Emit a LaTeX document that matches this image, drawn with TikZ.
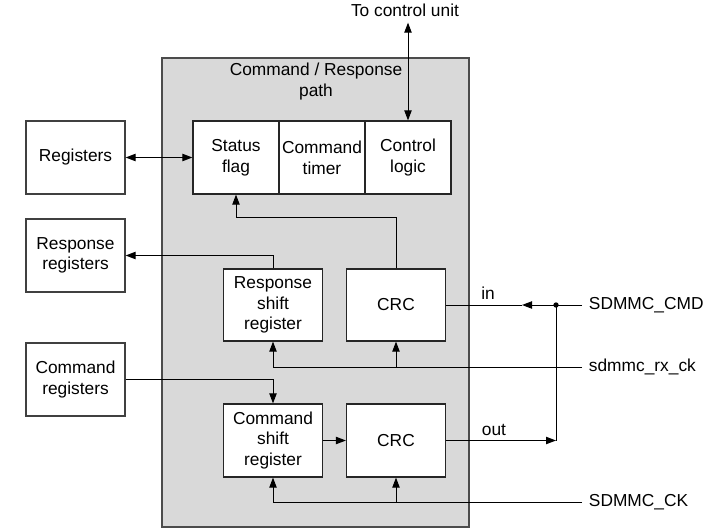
\documentclass[tikz,border=0pt]{standalone}
\usepackage{fontspec}
\setmainfont{Liberation Sans}
\usetikzlibrary{arrows.meta}
\tikzset{
    block/.style={draw=black!85, fill=white, line width=0.9pt, align=center, inner sep=0pt,
        minimum width=74.25pt, minimum height=54.75pt},
    sig/.style={line width=0.75pt, >={Triangle[length=7.5pt,width=5.5pt]}},
    pin/.style={anchor=west, inner xsep=5pt, inner ysep=0pt},
}
\begin{document}
\begin{tikzpicture}[x=0.75pt, y=-0.75pt, font=\fontsize{13}{15.5}\selectfont]
    \useasboundingbox (0,0) rectangle (713,531);
    \node[draw=black!70, fill=black!15, line width=0.9pt, inner sep=0pt,
        minimum width=230.25pt, minimum height=351.75pt] (path) at (315.5,292.5) {};
    \node[align=center] (title) at (316,81.5) {Command / Response\\path};

    \node[block, minimum width=64.5pt] (status) at (236,157.5) {Status\\flag};
    \node[block, minimum width=64.5pt] (timer) at (322,157.5) {Command\\timer};
    \node[block, minimum width=64.5pt] (ctrl) at (408,157.5) {Control\\logic};

    \node[block, draw=black!75] (reg) at (75.5,157.5) {Registers};
    \node[block, draw=black!75] (resp) at (75.5,255.5) {Response\\registers};
    \node[block, draw=black!75] (cmdreg) at (75.5,379.5) {Command\\registers};

    \node[block, minimum height=54pt] (rsr) at (273,305) {Response\\shift\\register};
    \node[block, minimum height=54pt] (crcin) at (396,305) {CRC};
    \node[block, minimum height=54.75pt] (csr) at (273,440.5) {Command\\shift\\register};
    \node[block, minimum height=54.75pt] (crcout) at (396,440.5) {CRC};

    \node[inner xsep=0pt, inner ysep=4.5pt] (cu) at (405,10) {To control unit};
    \node[pin] (cmd) at (582,305) {SDMMC\_CMD};
    \node[pin] (rxck) at (582,367) {sdmmc\_rx\_ck};
    \node[pin] (ck) at (582,502) {SDMMC\_CK};
    \node (in) at (488,293) {in};
    \node (out) at (494,430) {out};

    \coordinate (jn) at (556,305);
    \coordinate (inmid) at (522,305);
    \coordinate (outend) at (556,440.5);

    \draw[sig,<->] (ctrl.north) -- (ctrl.north |- cu.south);
    \draw[sig,<->] (reg.east) -- (status.west);
    \draw[sig,->] (crcin.north) -- ++(0,-51) -| (status.south);
    \draw[sig,->] (rsr.north) |- (resp.east);
    \draw[sig,->] (cmdreg.east) -| (csr.north);
    \draw[sig,->] (csr.east) -- (crcout.west);
    \draw[sig,->] (cmd.west) -- (inmid);
    \draw[sig] (inmid) -- (crcin.east);
    \fill (jn) circle (2pt);
    \draw[sig,->] (crcout.east) -- (outend);
    \draw[sig] (outend) -- (jn);
    \draw[sig,->] (rxck.west) -| (rsr.south);
    \draw[sig,->] (rxck.west -| crcin.south) -- (crcin.south);
    \draw[sig,->] (ck.west) -| (csr.south);
    \draw[sig,->] (ck.west -| crcout.south) -- (crcout.south);
\end{tikzpicture}
\end{document}
